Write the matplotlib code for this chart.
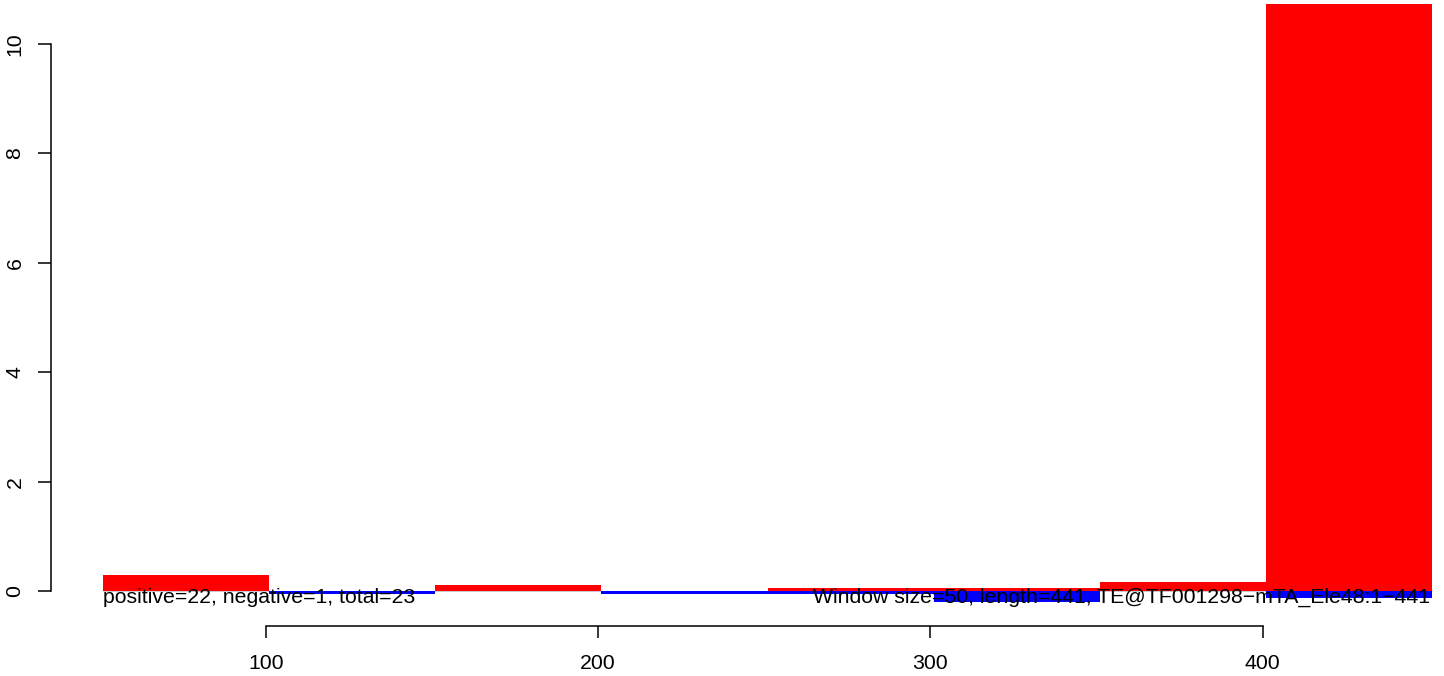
"""Window-level positive/negative score bars for one TE element (R-style base plot)."""

import matplotlib
matplotlib.use("Agg")
import matplotlib.pyplot as plt

plt.rcParams["font.family"] = ["Liberation Sans", "DejaVu Sans"]

# window starts (window size = 50, 1-based positions)
window_start = [51, 101, 151, 201, 251, 301, 351, 401]
window_size = 50
positive = [0.29, 0.0, 0.11, 0.0, 0.06, 0.06, 0.16, 10.8]
negative = [0.0, -0.05, 0.0, -0.05, -0.05, -0.20, 0.0, -0.13]

x_ticks = [100, 200, 300, 400]
y_ticks = [0, 2, 4, 6, 8, 10]

left_note = "positive=22, negative=1, total=23"
right_note = "Window size=50, length=441, TE@TF001298\u2212mTA_Ele48:1\u2212441"

W, H = 1444, 676
fig = plt.figure(figsize=(W / 100, H / 100), dpi=100)
ax = fig.add_axes([51 / W, (H - 626) / H, (1433 - 51) / W, (626 - 4) / H])

ax.hlines(0, window_start[0], window_start[-1] + window_size,
          color="#c0c0c0", lw=0.6, zorder=1)
ax.bar(window_start, positive, width=window_size, align="edge",
       color="#ff0000", linewidth=0, zorder=2)
ax.bar(window_start, negative, width=window_size, align="edge",
       color="#0000ff", linewidth=0, zorder=2)

ax.text(window_start[0], -0.215, left_note, ha="left", va="baseline",
        fontsize=15.3, zorder=3)
ax.text(window_start[-1] + window_size - 0.5, -0.215, right_note, ha="right",
        va="baseline", fontsize=15.3, zorder=3)

ax.set_xlim(35.3, 451.3)
ax.set_ylim(-0.64, 10.73)

for s in ("top", "right"):
    ax.spines[s].set_visible(False)
ax.spines["left"].set_bounds(0, 10)
ax.spines["bottom"].set_bounds(100, 400)
for s in ("left", "bottom"):
    ax.spines[s].set_linewidth(1.1)

ax.set_xticks(x_ticks)
ax.set_xticklabels([str(v) for v in x_ticks])
ax.set_yticks(y_ticks)
ax.set_yticklabels([str(v) for v in y_ticks], rotation=90, va="center")
ax.tick_params(axis="x", length=8.5, width=1.1, pad=12, labelsize=15.3)
ax.tick_params(axis="y", length=9.5, width=1.1, pad=9.5, labelsize=15.3)

fig.savefig("out.png", dpi=100)
plt.close(fig)
